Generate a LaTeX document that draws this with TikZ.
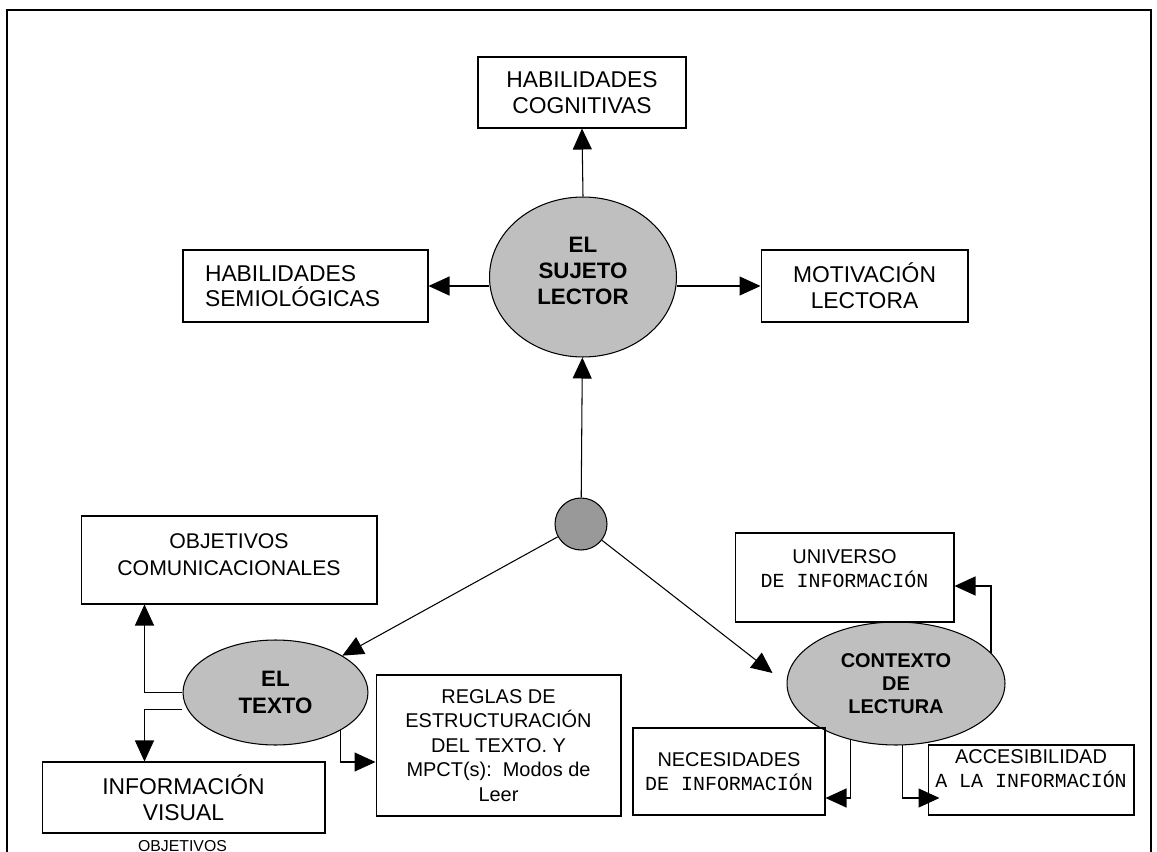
\documentclass[tikz,border=0pt]{standalone}
\usepackage{fontspec}
\setmainfont{Liberation Sans}
\setmonofont{Liberation Mono}
\usetikzlibrary{arrows.meta,shapes.geometric}
\definecolor{ovalgray}{gray}{0.75}
\definecolor{dotgray}{gray}{0.6}
\newcommand{\bigtxt}{\fontsize{13}{14.6}\selectfont}
\newcommand{\midtxt}{\fontsize{11.35}{14}\selectfont}
\tikzset{
  box/.style={draw, line width=0.6pt, inner sep=0pt, align=center},
  oval/.style={draw, ellipse, line width=0.6pt, fill=ovalgray, inner sep=0pt, align=center,
    font=\bfseries\fontsize{12.7}{15}\selectfont},
  arr/.style={-{Triangle[length=0.42cm,width=0.38cm]}, line width=0.6pt},
}
\begin{document}
\begin{tikzpicture}[x=0.02cm, y=-0.02cm]
\useasboundingbox (0,0) rectangle (1157,852);
% Frame, open at the bottom
\draw[line width=1.2pt] (7,870) -- (7,10) -- (1151,10) -- (1151,870);
%--- El sujeto lector ---
\node[oval, minimum width=3.74cm, minimum height=3.2cm] (sujeto) at (583,277) {EL\\SUJETO\\LECTOR\\[-8pt]\mbox{}};
\node[box, minimum width=4.16cm, minimum height=1.42cm, font=\bigtxt] (cognitivas) at (582,92.5) {HABILIDADES\\COGNITIVAS};
\node[box, text width=4.02cm, inner xsep=0.44cm, minimum height=1.44cm, align=left, font=\bigtxt] (semio) at (305.5,286) {HABILIDADES\\SEMIOLÓGICAS};
\node[box, minimum width=4.14cm, minimum height=1.44cm, font=\bigtxt] (motiva) at (864.5,286) {MOTIVACIÓN\\LECTORA};
% Junction
\node[draw, circle, line width=0.6pt, fill=dotgray, minimum size=1.04cm, inner sep=0pt] (nudo) at (581,524) {};
%--- El texto ---
\node[oval, minimum width=3.7cm, minimum height=2.1cm] (texto) at (275.5,692.5) {EL\\TEXTO};
\node[box, minimum width=5.92cm, minimum height=1.76cm, font=\fontsize{12.1}{15.3}\selectfont] (objetivos) at (229,560) {OBJETIVOS\\COMUNICACIONALES\\[-9pt]\mbox{}};
\node[box, minimum width=5.66cm, minimum height=1.42cm, font=\bigtxt] (visual) at (183.5,797.5) {INFORMACIÓN\\VISUAL};
\node[box, minimum width=4.9cm, minimum height=2.82cm, font=\midtxt] (reglas) at (498.5,745.5) {REGLAS DE\\ESTRUCTURACIÓN\\DEL TEXTO. Y\\MPCT(s):\ \ Modos de\\Leer};
\node[anchor=base, inner sep=0pt, font=\fontsize{9}{10}\selectfont] (pie) at (182.5,851.5) {OBJETIVOS};
%--- Contexto de lectura ---
\node[oval, minimum width=4.36cm, minimum height=2.46cm, font=\bfseries\fontsize{11.35}{13.3}\selectfont] (contexto) at (896,683.5) {CONTEXTO\\DE\\LECTURA};
\node[box, minimum width=4.38cm, minimum height=1.78cm, font=\midtxt] (universo) at (844.5,577.5) {UNIVERSO\\\texttt{DE INFORMACIÓN}\\[-4pt]\mbox{}};
\node[box, minimum width=3.84cm, minimum height=1.74cm, font=\midtxt] (necesidades) at (729,771.5) {NECESIDADES\\\texttt{DE INFORMACIÓN}};
\node[box, minimum width=4.12cm, minimum height=1.4cm, font=\midtxt] (acceso) at (1031,780) {ACCESIBILIDAD\\\texttt{A LA INFORMACIÓN}\\[-1pt]\mbox{}};
%--- Connectors ---
\draw[arr] (sujeto.north) -- (cognitivas.south);
\draw[arr] (sujeto.west |- semio.east) -- (semio.east);
\draw[arr] (sujeto.east |- motiva.west) -- (motiva.west);
\draw[arr] (nudo) -- (sujeto);
\draw[arr] (nudo) -- (texto);
\draw[arr] (nudo) -- ([xshift=-0.28cm,yshift=0.21cm]contexto.west);
\draw[arr] (texto.west) -| ([xshift=1.28cm]objetivos.south west);
\draw[arr] ([yshift=-0.34cm]texto.west) -| ([xshift=2.06cm]visual.north west);
\draw[arr] (texto.-30) |- ([yshift=-0.33cm]reglas.west);
\draw[arr] (contexto.18) |- ([yshift=-0.17cm]universo.east);
\draw[arr] (contexto.-129) |- ([yshift=-0.53cm]necesidades.east);
\draw[arr, shorten >=-0.24cm] (contexto.-84) |- ([yshift=-0.36cm]acceso.west);
\end{tikzpicture}
\end{document}
